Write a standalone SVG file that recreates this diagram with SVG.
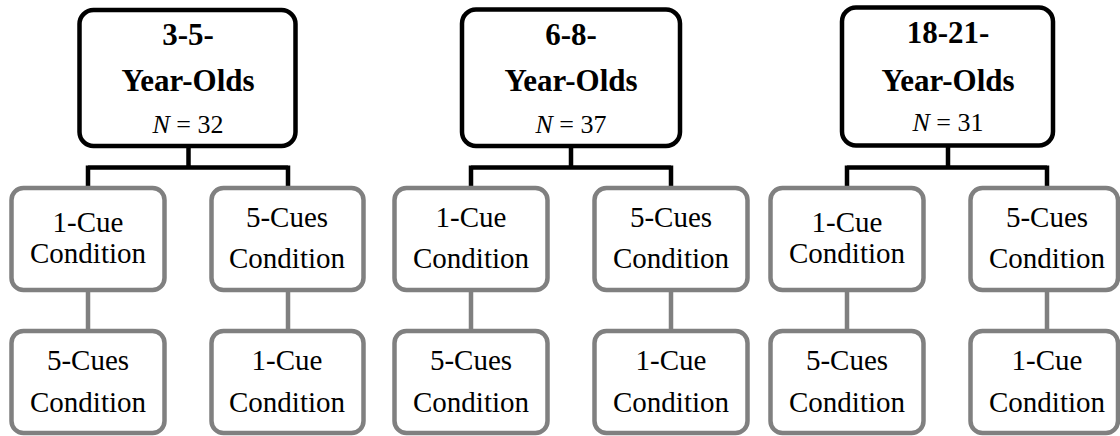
<svg xmlns="http://www.w3.org/2000/svg" width="1120" height="436" viewBox="0 0 1120 436">
<style>
.top{fill:#fff;stroke:#000;stroke-width:4.5}
.sub{fill:#fff;stroke:#808080;stroke-width:4.5}
.bl{fill:none;stroke:#000;stroke-width:4.5}
.gl{fill:none;stroke:#808080;stroke-width:4.5}
text{font-family:'Liberation Serif','Times New Roman',serif;text-anchor:middle;fill:#000}
.h{font-weight:bold;font-size:31px}
.n{font-size:26px}
.c{font-size:29px}
</style>
<rect width="1120" height="436" fill="#fff"/>
<g id="connectors">
<path class="bl" d="M188.5 148V167.5M88 167.5H288M88 165.5V188M288 165.5V188"/>
<path class="gl" d="M88 290V331M288 290V331"/>
<path class="bl" d="M571 148V167.5M471 167.5H671M471 165.5V188M671 165.5V188"/>
<path class="gl" d="M471 290V331M671 290V331"/>
<path class="bl" d="M948 147V167.5M847 167.5H1047M847 165.5V188M1047 165.5V188"/>
<path class="gl" d="M847 290V331M1047 290V331"/>
</g>
<g id="g1-top"><rect class="top" x="79.5" y="10" width="216" height="136" rx="14"/>
<text class="h" x="188" y="45">3-5-</text><text class="h" x="188" y="91">Year-Olds</text><text class="n" x="188" y="133"><tspan font-style="italic">N</tspan> = 32</text></g>
<g id="g1-a1"><rect class="sub" x="11.5" y="188" width="153" height="102" rx="12"/>
<text class="c" x="88" y="232">1-Cue</text><text class="c" x="88" y="263">Condition</text></g>
<g id="g1-b1"><rect class="sub" x="211.5" y="188" width="152" height="102" rx="12"/>
<text class="c" x="287" y="227">5-Cues</text><text class="c" x="287" y="268">Condition</text></g>
<g id="g1-a2"><rect class="sub" x="11.5" y="331" width="153" height="102" rx="12"/>
<text class="c" x="88" y="370">5-Cues</text><text class="c" x="88" y="412">Condition</text></g>
<g id="g1-b2"><rect class="sub" x="211.5" y="331" width="152" height="102" rx="12"/>
<text class="c" x="287" y="370">1-Cue</text><text class="c" x="287" y="412">Condition</text></g>

<g id="g2-top"><rect class="top" x="462" y="9.5" width="218" height="136.5" rx="14"/>
<text class="h" x="571" y="45">6-8-</text><text class="h" x="571" y="91">Year-Olds</text><text class="n" x="571" y="133"><tspan font-style="italic">N</tspan> = 37</text></g>
<g id="g2-a1"><rect class="sub" x="394.5" y="188" width="153" height="102" rx="12"/>
<text class="c" x="471" y="227">1-Cue</text><text class="c" x="471" y="268">Condition</text></g>
<g id="g2-b1"><rect class="sub" x="594.5" y="188" width="153" height="102" rx="12"/>
<text class="c" x="671" y="227">5-Cues</text><text class="c" x="671" y="268">Condition</text></g>
<g id="g2-a2"><rect class="sub" x="394.5" y="331" width="153" height="102" rx="12"/>
<text class="c" x="471" y="370">5-Cues</text><text class="c" x="471" y="412">Condition</text></g>
<g id="g2-b2"><rect class="sub" x="594.5" y="331" width="153" height="102" rx="12"/>
<text class="c" x="671" y="370">1-Cue</text><text class="c" x="671" y="412">Condition</text></g>

<g id="g3-top"><rect class="top" x="842" y="7.5" width="211" height="138" rx="14"/>
<text class="h" x="948" y="43">18-21-</text><text class="h" x="948" y="91">Year-Olds</text><text class="n" x="948" y="131"><tspan font-style="italic">N</tspan> = 31</text></g>
<g id="g3-a1"><rect class="sub" x="770.5" y="188" width="153" height="102" rx="12"/>
<text class="c" x="847" y="232">1-Cue</text><text class="c" x="847" y="263">Condition</text></g>
<g id="g3-b1"><rect class="sub" x="970.5" y="188" width="147.5" height="102" rx="12"/>
<text class="c" x="1047" y="227">5-Cues</text><text class="c" x="1047" y="268">Condition</text></g>
<g id="g3-a2"><rect class="sub" x="770.5" y="331" width="153" height="102" rx="12"/>
<text class="c" x="847" y="370">5-Cues</text><text class="c" x="847" y="412">Condition</text></g>
<g id="g3-b2"><rect class="sub" x="970.5" y="331" width="147.5" height="102" rx="12"/>
<text class="c" x="1047" y="370">1-Cue</text><text class="c" x="1047" y="412">Condition</text></g>
</svg>
